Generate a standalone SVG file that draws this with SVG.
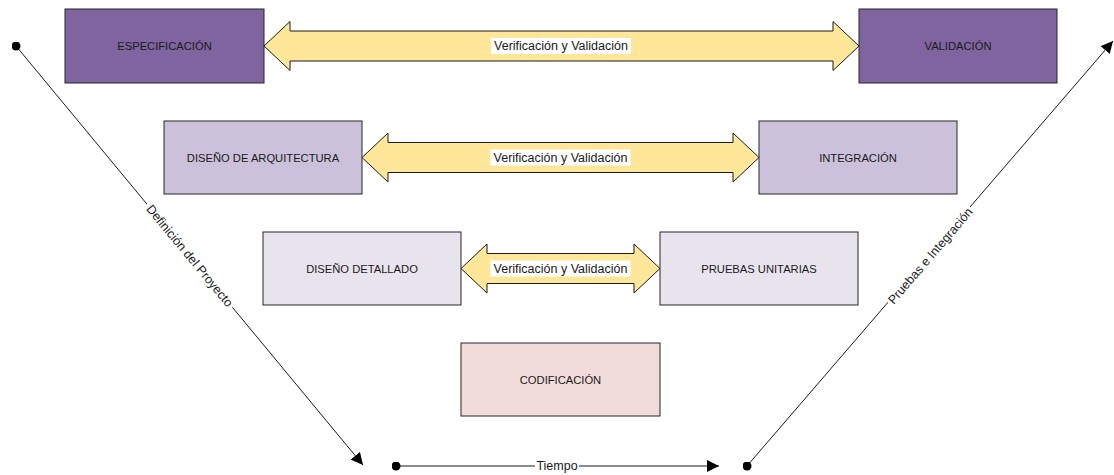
<svg xmlns="http://www.w3.org/2000/svg" width="1114" height="475" viewBox="0 0 1114 475">
<style>
.box{stroke:#262626;stroke-width:1}
.t{font-family:"Liberation Sans",Arial,sans-serif;font-size:11.2px;fill:#1a1a1a;text-anchor:middle;dominant-baseline:central}
.lbl{font-family:"Liberation Sans",Arial,sans-serif;font-size:12.5px;fill:#1a1a1a;text-anchor:middle;dominant-baseline:central}
.vv{fill:#FFE699;stroke:#1a1a1a;stroke-width:1}
.ln{stroke:#1a1a1a;stroke-width:1;fill:none}
.bg{fill:#ffffff}
</style>
<defs>
<marker id="ah" viewBox="0 0 10 10" refX="10" refY="5" markerWidth="12" markerHeight="12" markerUnits="userSpaceOnUse" orient="auto">
<path d="M0,0 L10,5 L0,10 Z" fill="#000"/>
</marker>
<marker id="dot" viewBox="0 0 10 10" refX="5" refY="5" markerWidth="9" markerHeight="9" markerUnits="userSpaceOnUse">
<circle cx="5" cy="5" r="5" fill="#000"/>
</marker>
</defs>
<rect width="1114" height="475" fill="#ffffff"/>

<g id="especificacion"><rect class="box" x="65" y="9" width="199" height="74" fill="#7F64A0"/><text class="t" x="164.5" y="46">ESPECIFICACIÓN</text></g>
<g id="validacion"><rect class="box" x="859" y="9" width="198" height="74" fill="#7F64A0"/><text class="t" x="958" y="46">VALIDACIÓN</text></g>
<g id="arquitectura"><rect class="box" x="164" y="121" width="198" height="73" fill="#CCC1DA"/><text class="t" x="263" y="157.5">DISEÑO DE ARQUITECTURA</text></g>
<g id="integracion"><rect class="box" x="759" y="121" width="198" height="73" fill="#CCC1DA"/><text class="t" x="858" y="157.5">INTEGRACIÓN</text></g>
<g id="detallado"><rect class="box" x="263" y="232" width="198" height="73" fill="#E8E4EE"/><text class="t" x="362" y="268.5">DISEÑO DETALLADO</text></g>
<g id="pruebas"><rect class="box" x="660" y="232" width="198" height="73" fill="#E8E4EE"/><text class="t" x="759" y="268.5">PRUEBAS UNITARIAS</text></g>
<g id="codificacion"><rect class="box" x="461" y="343" width="199" height="73" fill="#F2DCDB"/><text class="t" x="560.5" y="380">CODIFICACIÓN</text></g>

<g id="vv1"><path class="vv" d="M264,46 L290,21.5 L290,31 L833,31 L833,21.5 L859,46 L833,70.5 L833,61 L290,61 L290,70.5 Z"/><rect class="bg" x="491" y="38" width="140" height="16"/><text class="lbl" x="561" y="46">Verificación y Validación</text></g>
<g id="vv2"><path class="vv" d="M362,157.5 L388,133 L388,142.5 L733,142.5 L733,133 L759,157.5 L733,182 L733,172.5 L388,172.5 L388,182 Z"/><rect class="bg" x="490.5" y="149.5" width="140" height="16"/><text class="lbl" x="560.5" y="157.5">Verificación y Validación</text></g>
<g id="vv3"><path class="vv" d="M461,268.5 L487,244 L487,253.5 L634,253.5 L634,244 L660,268.5 L634,293 L634,283.5 L487,283.5 L487,293 Z"/><rect class="bg" x="490.5" y="260.5" width="140" height="16"/><text class="lbl" x="560.5" y="268.5">Verificación y Validación</text></g>

<g id="connectors">
<line class="ln" x1="16" y1="46" x2="363" y2="465" marker-start="url(#dot)" marker-end="url(#ah)"/>
<line class="ln" x1="396" y1="466" x2="719" y2="466" marker-start="url(#dot)" marker-end="url(#ah)"/>
<line class="ln" x1="747" y1="466" x2="1113" y2="41" marker-start="url(#dot)" marker-end="url(#ah)"/>
<g transform="translate(189.5,256) rotate(50.4)"><rect class="bg" x="-67" y="-7" width="134" height="14"/><text class="lbl" x="0" y="0">Definición del Proyecto</text></g>
<g transform="translate(930.5,256) rotate(-49.3)"><rect class="bg" x="-63" y="-7" width="126" height="14"/><text class="lbl" x="0" y="0">Pruebas e Integración</text></g>
<g><rect class="bg" x="535" y="459" width="44" height="14"/><text class="lbl" x="557" y="466">Tiempo</text></g>
</g>
</svg>
